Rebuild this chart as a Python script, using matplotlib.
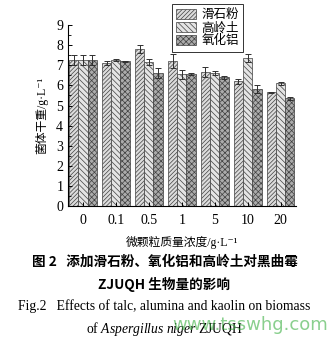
import matplotlib
matplotlib.use("Agg")
import matplotlib.pyplot as plt
import numpy as np
from matplotlib.ticker import MultipleLocator

plt.rcParams['font.family'] = ['Liberation Serif', 'Noto Sans CJK SC', 'DejaVu Sans']
plt.rcParams['mathtext.fontset'] = 'custom'
plt.rcParams['mathtext.rm'] = 'Liberation Serif'
plt.rcParams['mathtext.it'] = 'Liberation Serif:italic'
plt.rcParams['hatch.linewidth'] = 0.5
plt.rcParams['hatch.color'] = '#606060'

categories = ['0', '0.1', '0.5', '1', '5', '10', '20']
series_names = ['滑石粉', '高岭土', '氧化铝']
talc = [7.25, 7.1, 7.8, 7.2, 6.65, 6.2, 5.65]
kaolin = [7.25, 7.25, 7.15, 6.55, 6.6, 7.35, 6.1]
alumina = [7.25, 7.2, 6.6, 6.55, 6.4, 5.8, 5.35]
talc_err = [0.25, 0.1, 0.2, 0.35, 0.25, 0.12, 0.02]
kaolin_err = [0.25, 0.06, 0.15, 0.22, 0.1, 0.2, 0.08]
alumina_err = [0.25, 0.02, 0.25, 0.05, 0.07, 0.2, 0.08]

fig = plt.figure(figsize=(3.29, 3.43), dpi=100)
ax = fig.add_axes([0.207, 0.399, 0.693, 0.528])

x = np.arange(len(categories))
w = 0.28
styles = [('#dcdcdc', '////////'), ('#e4e4e4', '\\\\\\\\\\\\'), ('#ababab', 'xxxxxx')]
data = [(talc, talc_err), (kaolin, kaolin_err), (alumina, alumina_err)]
for i, ((vals, errs), (fc, h), name) in enumerate(zip(data, styles, series_names)):
    ax.bar(x + (i - 1) * w, vals, w, color=fc, hatch=h, edgecolor='#404040',
           linewidth=0.5, label=name, yerr=errs,
           error_kw=dict(ecolor='#303030', elinewidth=0.7, capsize=2.2, capthick=0.7))

ax.set_xlim(-0.45, 6.47)
ax.set_ylim(0, 9)
ax.spines['top'].set_visible(False)
ax.spines['right'].set_visible(False)
ax.spines['left'].set_linewidth(0.8)
ax.spines['bottom'].set_linewidth(0.8)
ax.yaxis.set_major_locator(MultipleLocator(1))
ax.yaxis.set_minor_locator(MultipleLocator(0.5))
ax.set_xticks(x)
ax.set_xticklabels(categories)
ax.tick_params(axis='both', direction='in', labelsize=10, width=0.7, length=3)
ax.tick_params(axis='y', which='minor', direction='in', length=1.8, width=0.6)
ax.tick_params(axis='x', pad=6)
ax.set_ylabel('菌体干重/g·L⁻¹', fontsize=8.5, labelpad=6)
ax.set_xlabel('微颗粒质量浓度/g·L⁻¹', fontsize=8.5, labelpad=6)

leg = ax.legend(loc='upper left', bbox_to_anchor=(0.455, 1.115), fontsize=9,
                frameon=True, fancybox=False, edgecolor='black', handlelength=1.6,
                handleheight=0.9, handletextpad=0.4, labelspacing=0.05,
                borderpad=0.35, borderaxespad=0)
leg.get_frame().set_linewidth(0.7)

fig.text(0.5, 1 - 262 / 343, '图 2   添加滑石粉、氧化铝和高岭土对黑曲霉', ha='center', va='center',
         fontsize=9.8, fontweight='bold', family=['Noto Sans CJK SC', 'DejaVu Sans'])
fig.text(0.5, 1 - 284 / 343, 'ZJUQH 生物量的影响', ha='center', va='center',
         fontsize=9.8, fontweight='bold', family=['Noto Sans CJK SC', 'DejaVu Sans'])
fig.text(0.5, 1 - 306 / 343, 'Fig.2   Effects of talc, alumina and kaolin on biomass',
         ha='center', va='center', fontsize=9.8)
fig.text(0.5, 1 - 329 / 343, r'of $Aspergillus\ niger$ ZJUQH', ha='center', va='center',
         fontsize=9.8)
fig.text(0.76, 1 - 325 / 343, 'www.tsswhg.com', ha='center', va='center', fontsize=13,
         color='#3cb043', alpha=0.6, family='DejaVu Sans')

fig.savefig('out.png', dpi=100)
